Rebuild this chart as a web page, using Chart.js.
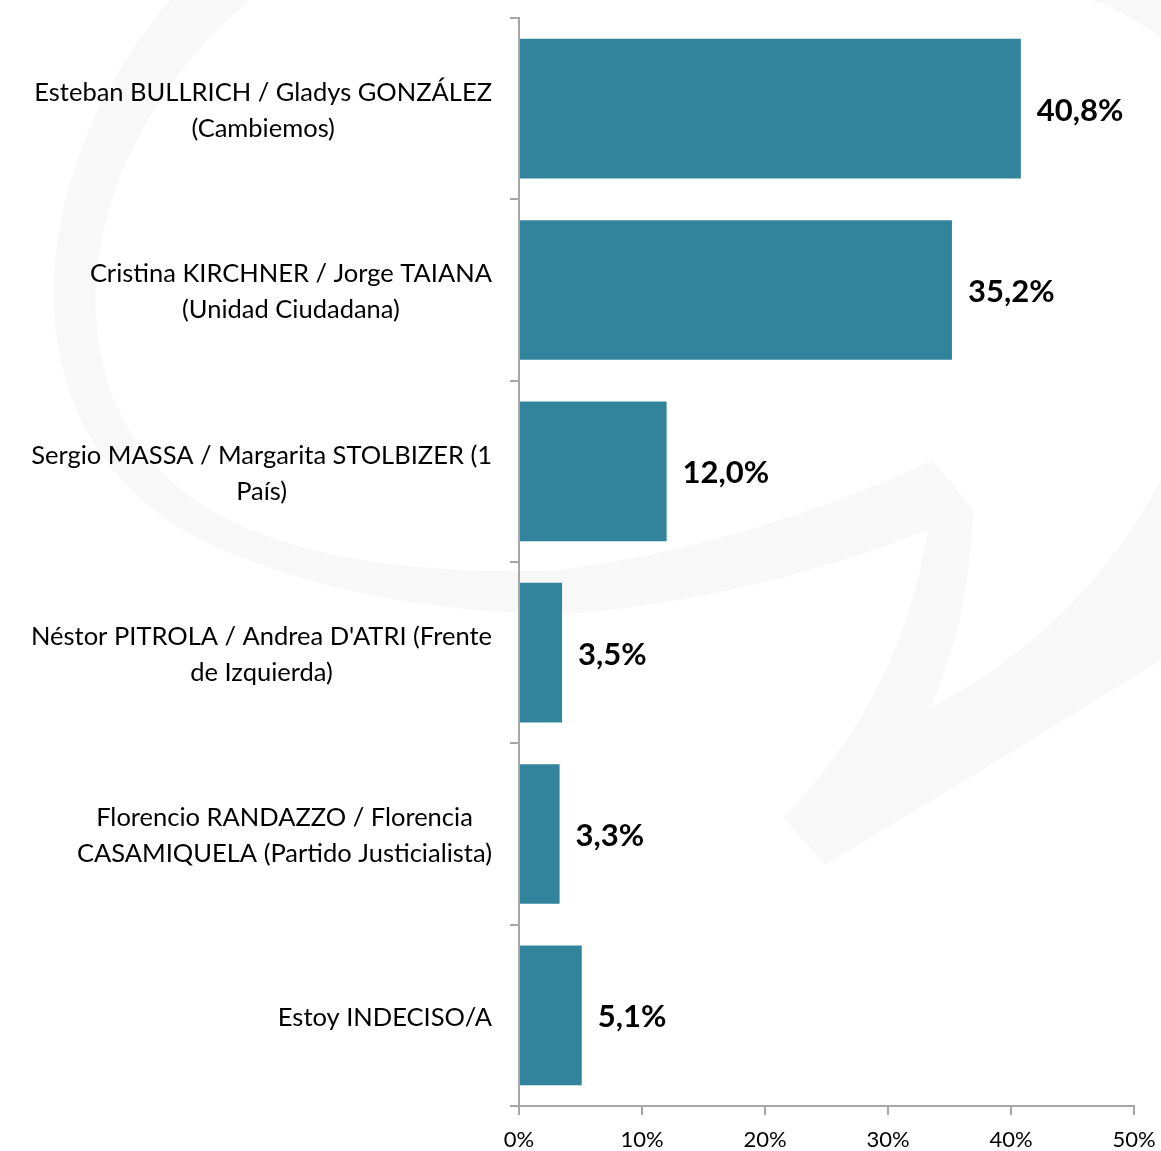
<!DOCTYPE html>
<html>
<head>
<meta charset="utf-8">
<script src="https://cdn.jsdelivr.net/npm/chart.js@4.4.1/dist/chart.umd.min.js"></script>
<style>
  html, body { margin: 0; padding: 0; background: #fff; }
  #wrap { width: 1161px; height: 1151px; }
</style>
</head>
<body>
<div id="wrap"><canvas id="chartVotos"></canvas></div>
<script>
// ===============================
// DATOS
// ===============================
const candidatos = [
  ["Esteban BULLRICH / Gladys GONZÁLEZ", "(Cambiemos)"],
  ["Cristina KIRCHNER / Jorge TAIANA", "(Unidad Ciudadana)"],
  ["Sergio MASSA / Margarita STOLBIZER (1", "País)"],
  ["Néstor PITROLA / Andrea D'ATRI (Frente", "de Izquierda)"],
  ["Florencio RANDAZZO / Florencia", "CASAMIQUELA (Partido Justicialista)"],
  ["Estoy INDECISO/A"]
];
const porcentajes = [40.8, 35.2, 12.0, 3.5, 3.3, 5.1];

const colorBarra = "#31849b";
const colorEje = "#a6a6a6";
const fuente = "Lato, 'Open Sans', sans-serif";

// Marca de agua de fondo (muy tenue)
const marcaAgua = {
  id: "marcaAgua",
  beforeDraw(chart) {
    const c = chart.ctx;
    c.save();
    c.fillStyle = "#f8f8f8";
    // media luna izquierda + banda
    c.beginPath();
    c.moveTo(170, 0);
    c.bezierCurveTo(40, 150, -20, 420, 200, 540);
    c.bezierCurveTo(330, 600, 460, 612, 560, 615);
    c.quadraticCurveTo(750, 600, 928, 530);
    c.lineTo(973, 510);
    c.lineTo(933, 460);
    c.quadraticCurveTo(750, 545, 560, 570);
    c.bezierCurveTo(430, 575, 300, 560, 220, 515);
    c.bezierCurveTo(40, 420, 60, 160, 250, 0);
    c.closePath();
    c.fill();
    // V derecha
    c.beginPath();
    c.moveTo(928, 530);
    c.quadraticCurveTo(900, 700, 783, 817);
    c.lineTo(825, 865);
    c.quadraticCurveTo(1000, 760, 1161, 660);
    c.lineTo(1161, 480);
    c.quadraticCurveTo(1080, 630, 930, 708);
    c.quadraticCurveTo(970, 620, 973, 510);
    c.closePath();
    c.fill();
    // esquina superior derecha
    c.beginPath();
    c.moveTo(1092, 0);
    c.lineTo(1161, 0);
    c.lineTo(1161, 38);
    c.quadraticCurveTo(1130, 14, 1092, 0);
    c.closePath();
    c.fill();
    c.restore();
  }
};

// Etiquetas del eje Y (centradas entre líneas, bloque alineado a la derecha)
const etiquetasY = {
  id: "etiquetasY",
  afterDraw(chart) {
    const c = chart.ctx;
    const escala = chart.scales.y;
    const derecha = 492;
    const alto = 36;
    c.save();
    c.font = "25.5px " + fuente;
    c.fillStyle = "#000";
    c.textAlign = "center";
    c.textBaseline = "middle";
    candidatos.forEach((lineas, i) => {
      const ancho = Math.max(...lineas.map(l => c.measureText(l).width));
      const cx = derecha - ancho / 2;
      const yc = escala.getPixelForValue(i) + 2;
      const y0 = yc - (lineas.length - 1) * alto / 2;
      lineas.forEach((l, k) => c.fillText(l, cx, y0 + k * alto));
    });
    c.restore();
  }
};

// Valores al final de cada barra
const valores = {
  id: "valores",
  afterDatasetsDraw(chart) {
    const c = chart.ctx;
    const meta = chart.getDatasetMeta(0);
    c.save();
    c.font = "bold 31px " + fuente;
    c.fillStyle = "#000";
    c.textAlign = "left";
    c.textBaseline = "middle";
    meta.data.forEach((barra, i) => {
      const txt = porcentajes[i].toFixed(1).replace(".", ",") + "%";
      c.fillText(txt, barra.x + 16, barra.y + 2);
    });
    c.restore();
  }
};

new Chart(document.getElementById("chartVotos"), {
  type: "bar",
  data: {
    labels: candidatos,
    datasets: [{
      data: porcentajes,
      backgroundColor: colorBarra,
      barPercentage: 0.77,
      categoryPercentage: 1
    }]
  },
  options: {
    indexAxis: "y",
    responsive: true,
    maintainAspectRatio: false,
    animation: false,
    events: [],
    layout: { padding: { top: 18, right: 27, left: 0, bottom: 0 } },
    plugins: {
      legend: { display: false },
      tooltip: { enabled: false }
    },
    scales: {
      x: {
        min: 0,
        max: 50,
        ticks: {
          stepSize: 10,
          callback: v => v + "%",
          color: "#000",
          padding: 12,
          font: { family: fuente, size: 22 }
        },
        grid: {
          drawOnChartArea: false,
          drawTicks: true,
          tickLength: 9,
          color: colorEje,
          lineWidth: 2
        },
        border: { color: colorEje, width: 2 },
        afterFit: s => {
          s.height = 45;
          s.paddingLeft = 0;
          s.paddingRight = 0;
        }
      },
      y: {
        offset: true,
        ticks: { display: false },
        grid: {
          offset: true,
          drawOnChartArea: false,
          drawTicks: true,
          tickLength: 9,
          color: colorEje,
          lineWidth: 2
        },
        border: { color: colorEje, width: 2 },
        afterFit: s => { s.width = 519; }
      }
    }
  },
  plugins: [marcaAgua, etiquetasY, valores]
});
</script>
</body>
</html>
